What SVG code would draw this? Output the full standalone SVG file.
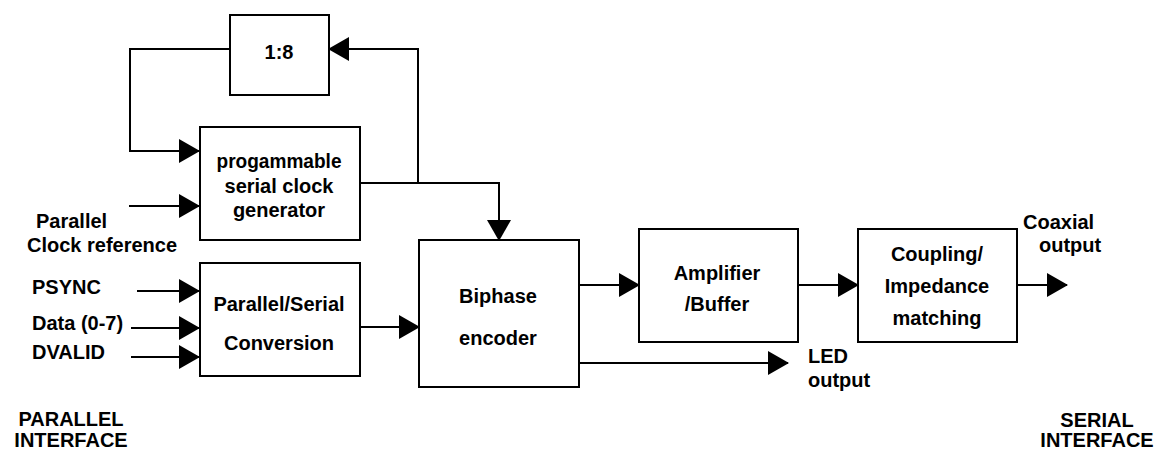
<svg xmlns="http://www.w3.org/2000/svg" width="1156" height="450" viewBox="0 0 1156 450">
<style>
.box{fill:#fff;stroke:#000;stroke-width:2}
.ln{fill:none;stroke:#000;stroke-width:2}
text{font-family:"Liberation Sans",Arial,sans-serif;font-weight:bold;font-size:20px;fill:#000}
.c{text-anchor:middle}
</style>
<defs>
<marker id="ah" markerUnits="userSpaceOnUse" markerWidth="21" markerHeight="24" refX="20" refY="12" orient="auto" overflow="visible">
<path d="M0,0 L21,12 L0,24 Z" fill="#000"/>
</marker>
</defs>
<rect width="1156" height="450" fill="#fff"/>
<g id="connectors">
<polyline class="ln" points="230,49 130,49 130,151 199,151" marker-end="url(#ah)"/>
<line class="ln" x1="129" y1="206" x2="199" y2="206" marker-end="url(#ah)"/>
<polyline class="ln" points="360,183 499,183 499,240" marker-end="url(#ah)"/>
<polyline class="ln" points="418,183 418,49 329,49" marker-end="url(#ah)"/>
<line class="ln" x1="137" y1="291" x2="199" y2="291" marker-end="url(#ah)"/>
<line class="ln" x1="131" y1="328" x2="199" y2="328" marker-end="url(#ah)"/>
<line class="ln" x1="131" y1="357" x2="199" y2="357" marker-end="url(#ah)"/>
<line class="ln" x1="360" y1="327" x2="419" y2="327" marker-end="url(#ah)"/>
<line class="ln" x1="579" y1="285" x2="639" y2="285" marker-end="url(#ah)"/>
<line class="ln" x1="579" y1="363" x2="788" y2="363" marker-end="url(#ah)"/>
<line class="ln" x1="798" y1="285" x2="858" y2="285" marker-end="url(#ah)"/>
<line class="ln" x1="1017" y1="285" x2="1067" y2="285" marker-end="url(#ah)"/>
</g>
<g id="divider">
<rect class="box" x="230" y="15" width="99" height="80"/>
<text class="c" x="279" y="59">1:8</text>
</g>
<g id="clockgen">
<rect class="box" x="200" y="127" width="160" height="113"/>
<text class="c" x="279" y="168" textLength="125" lengthAdjust="spacingAndGlyphs">progammable</text>
<text class="c" x="279" y="193">serial clock</text>
<text class="c" x="279" y="217">generator</text>
</g>
<g id="pserial">
<rect class="box" x="200" y="263" width="160" height="113"/>
<text class="c" x="279" y="311">Parallel/Serial</text>
<text class="c" x="279" y="350">Conversion</text>
</g>
<g id="biphase">
<rect class="box" x="419" y="240" width="160" height="147"/>
<text class="c" x="498" y="303">Biphase</text>
<text class="c" x="498" y="345">encoder</text>
</g>
<g id="amplifier">
<rect class="box" x="639" y="229" width="159" height="113"/>
<text class="c" x="717" y="280">Amplifier</text>
<text class="c" x="717" y="311">/Buffer</text>
</g>
<g id="coupling">
<rect class="box" x="858" y="229" width="159" height="113"/>
<text class="c" x="937" y="261">Coupling/</text>
<text class="c" x="937" y="293">Impedance</text>
<text class="c" x="937" y="325">matching</text>
</g>
<g id="labels">
<text x="36" y="228">Parallel</text>
<text x="27" y="252">Clock reference</text>
<text x="32" y="294">PSYNC</text>
<text x="32" y="330">Data (0-7)</text>
<text x="32" y="359">DVALID</text>
<text class="c" x="71" y="426">PARALLEL</text>
<text class="c" x="71" y="447">INTERFACE</text>
<text x="808" y="363">LED</text>
<text x="808" y="387">output</text>
<text x="1023" y="229">Coaxial</text>
<text x="1039" y="252">output</text>
<text class="c" x="1097" y="427">SERIAL</text>
<text class="c" x="1097" y="447">INTERFACE</text>
</g>
</svg>
